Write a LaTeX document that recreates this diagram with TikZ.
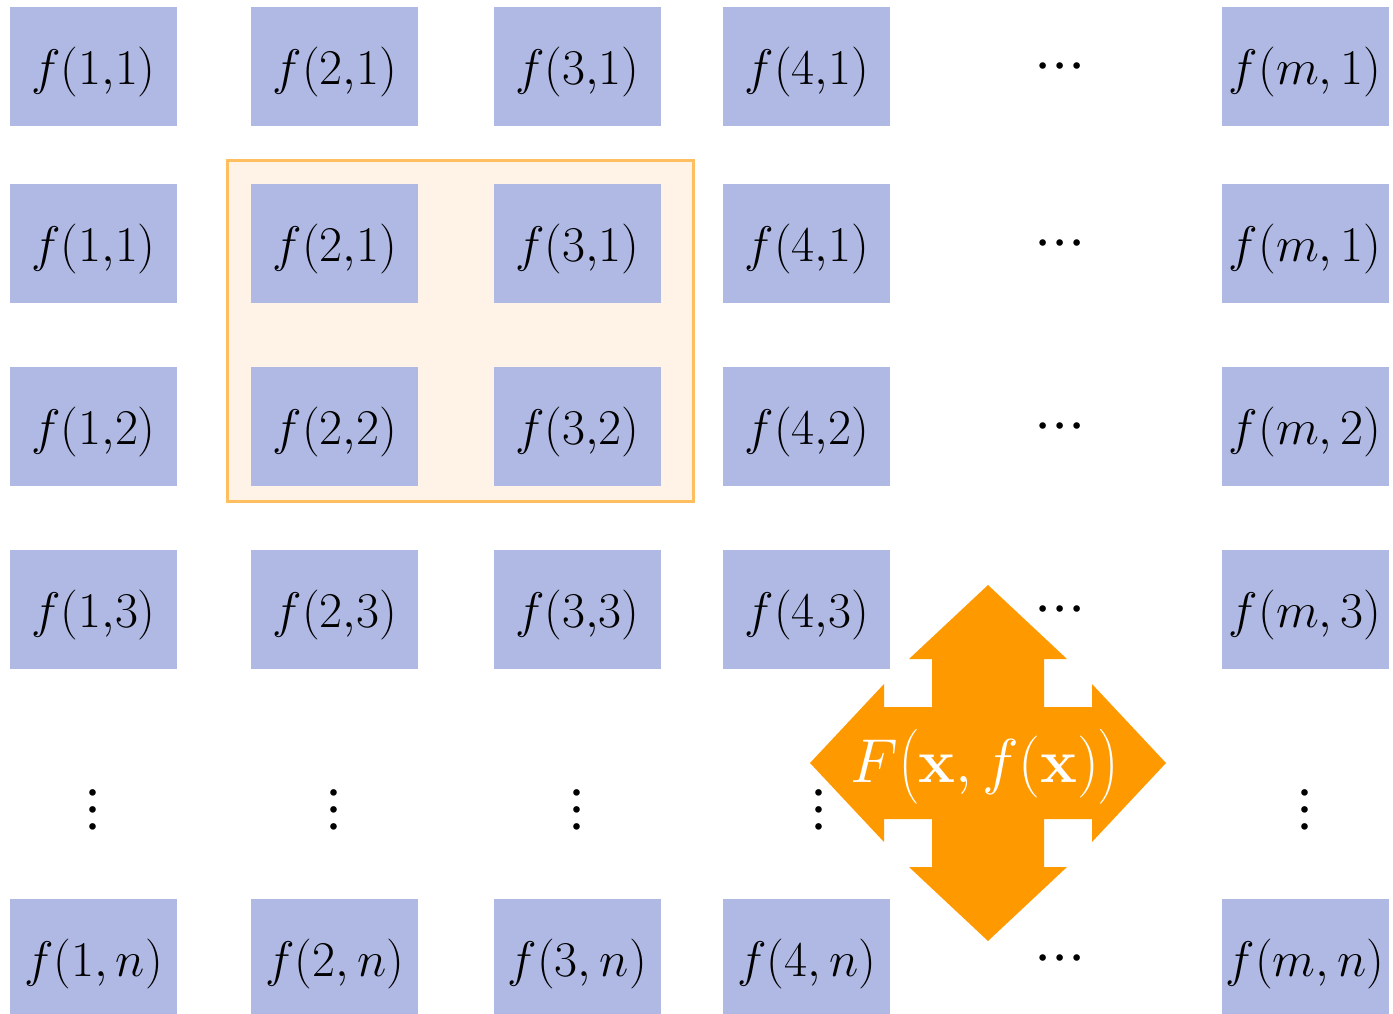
\RequirePackage{fix-cm}
\documentclass[tikz,border=0pt]{standalone}
\usepackage{amsmath}
\usetikzlibrary{positioning,calc,backgrounds}
\definecolor{cellblue}{RGB}{176,185,228}
\definecolor{burstorange}{RGB}{255,153,0}
\definecolor{framefill}{RGB}{254,243,230}
\definecolor{frameline}{RGB}{255,191,96}
\newcommand{\dotrow}{${\cdot}{\cdot}{\cdot}$}

\begin{document}
\begin{tikzpicture}[
    x=1pt, y=-1pt,
    node distance=61pt and 74pt,
    cell/.style={rectangle, fill=cellblue, minimum width=167pt, minimum height=119pt, inner sep=0pt,
                 text height=48.5pt, text depth=12.5pt, font=\fontsize{50}{56}\selectfont},
    hdots/.style={inner sep=0pt, text height=45pt, text depth=15pt, font=\fontsize{62}{68}\selectfont},
    vdots/.style={hdots, rotate=90},
    frame/.style={draw=frameline, fill=framefill, line width=3pt},
    burst/.style={fill=burstorange}
]
\useasboundingbox (0,0) rectangle (1393,1014);

% first row
\node[cell] (r1c1) at (93.5,66.5) {$f(1{,}1)$};
\node[cell, right=of r1c1] (r1c2) {$f(2{,}1)$};
\node[cell, right=75pt of r1c2] (r1c3) {$f(3{,}1)$};
\node[cell, right=62pt of r1c3] (r1c4) {$f(4{,}1)$};
\node[cell, right=331pt of r1c4] (r1cm) {$f(m,1)$};

% second row
\node[cell, below=58pt of r1c1] (r2c1) {$f(1{,}1)$};
\node[cell, below=58pt of r1c2] (r2c2) {$f(2{,}1)$};
\node[cell, below=58pt of r1c3] (r2c3) {$f(3{,}1)$};
\node[cell, below=58pt of r1c4] (r2c4) {$f(4{,}1)$};
\node[cell, below=58pt of r1cm] (r2cm) {$f(m,1)$};

% third row
\node[cell, below=63pt of r2c1] (r3c1) {$f(1{,}2)$};
\node[cell, below=63pt of r2c2] (r3c2) {$f(2{,}2)$};
\node[cell, below=63pt of r2c3] (r3c3) {$f(3{,}2)$};
\node[cell, below=63pt of r2c4] (r3c4) {$f(4{,}2)$};
\node[cell, below=63pt of r2cm] (r3cm) {$f(m,2)$};

% fourth row
\node[cell, below=64pt of r3c1] (r4c1) {$f(1{,}3)$};
\node[cell, below=64pt of r3c2] (r4c2) {$f(2{,}3)$};
\node[cell, below=64pt of r3c3] (r4c3) {$f(3{,}3)$};
\node[cell, below=64pt of r3c4] (r4c4) {$f(4{,}3)$};
\node[cell, below=64pt of r3cm] (r4cm) {$f(m,3)$};

% last row
\node[cell, below=229pt of r4c1] (rnc1) {$f(1,n)$};
\node[cell, below=229pt of r4c2] (rnc2) {$f(2,n)$};
\node[cell, below=229pt of r4c3] (rnc3) {$f(3,n)$};
\node[cell, below=229pt of r4c4] (rnc4) {$f(4,n)$};
\node[cell, below=229pt of r4cm] (rncm) {$f(m,n)$};

% window round the 2x2 block
\begin{scope}[on background layer]
  \draw[frame] ([shift={(-24,-24)}]r2c2.north west) rectangle ([shift={(32,15)}]r3c3.south east);
\end{scope}

% dots
\coordinate (dcol) at (1060,0);
\coordinate (drow) at (0,810);
\node[hdots] (r1d) at (dcol |- r1c1) {\dotrow};
\node[hdots] (r2d) at (dcol |- r2c1) {\dotrow};
\node[hdots] (r3d) at (dcol |- r3c1) {\dotrow};
\node[hdots] (r4d) at (dcol |- r4c1) {\dotrow};
\node[hdots] (rnd) at (dcol |- rnc1) {\dotrow};
\node[vdots] (dc1) at (r1c1 |- drow) {\dotrow};
\node[vdots] (dc2) at (r1c2 |- drow) {\dotrow};
\node[vdots] (dc3) at (r1c3 |- drow) {\dotrow};
\node[vdots] (dc4) at (819,810) {\dotrow};
\node[vdots] (dcm) at (r1cm |- drow) {\dotrow};

% four-way arrow
\coordinate (ctr) at (988,763);
\fill[burst, shift={(ctr)}] (0,-178) -- (79,-104) -- (56,-104) -- (56,-56) -- (104,-56) -- (104,-79)
  -- (178,0) -- (104,79) -- (104,56) -- (56,56) -- (56,104) -- (79,104)
  -- (0,178) -- (-79,104) -- (-56,104) -- (-56,56) -- (-104,56) -- (-104,79)
  -- (-178,0) -- (-104,-79) -- (-104,-56) -- (-56,-56) -- (-56,-104) -- (-79,-104) -- cycle;
\node[inner sep=0pt, text=white, font=\fontsize{62}{68}\selectfont] (lbl) at (985,767)
  {$F\bigl(\mathbf{x}, f(\mathbf{x})\bigr)$};
\end{tikzpicture}
\end{document}
